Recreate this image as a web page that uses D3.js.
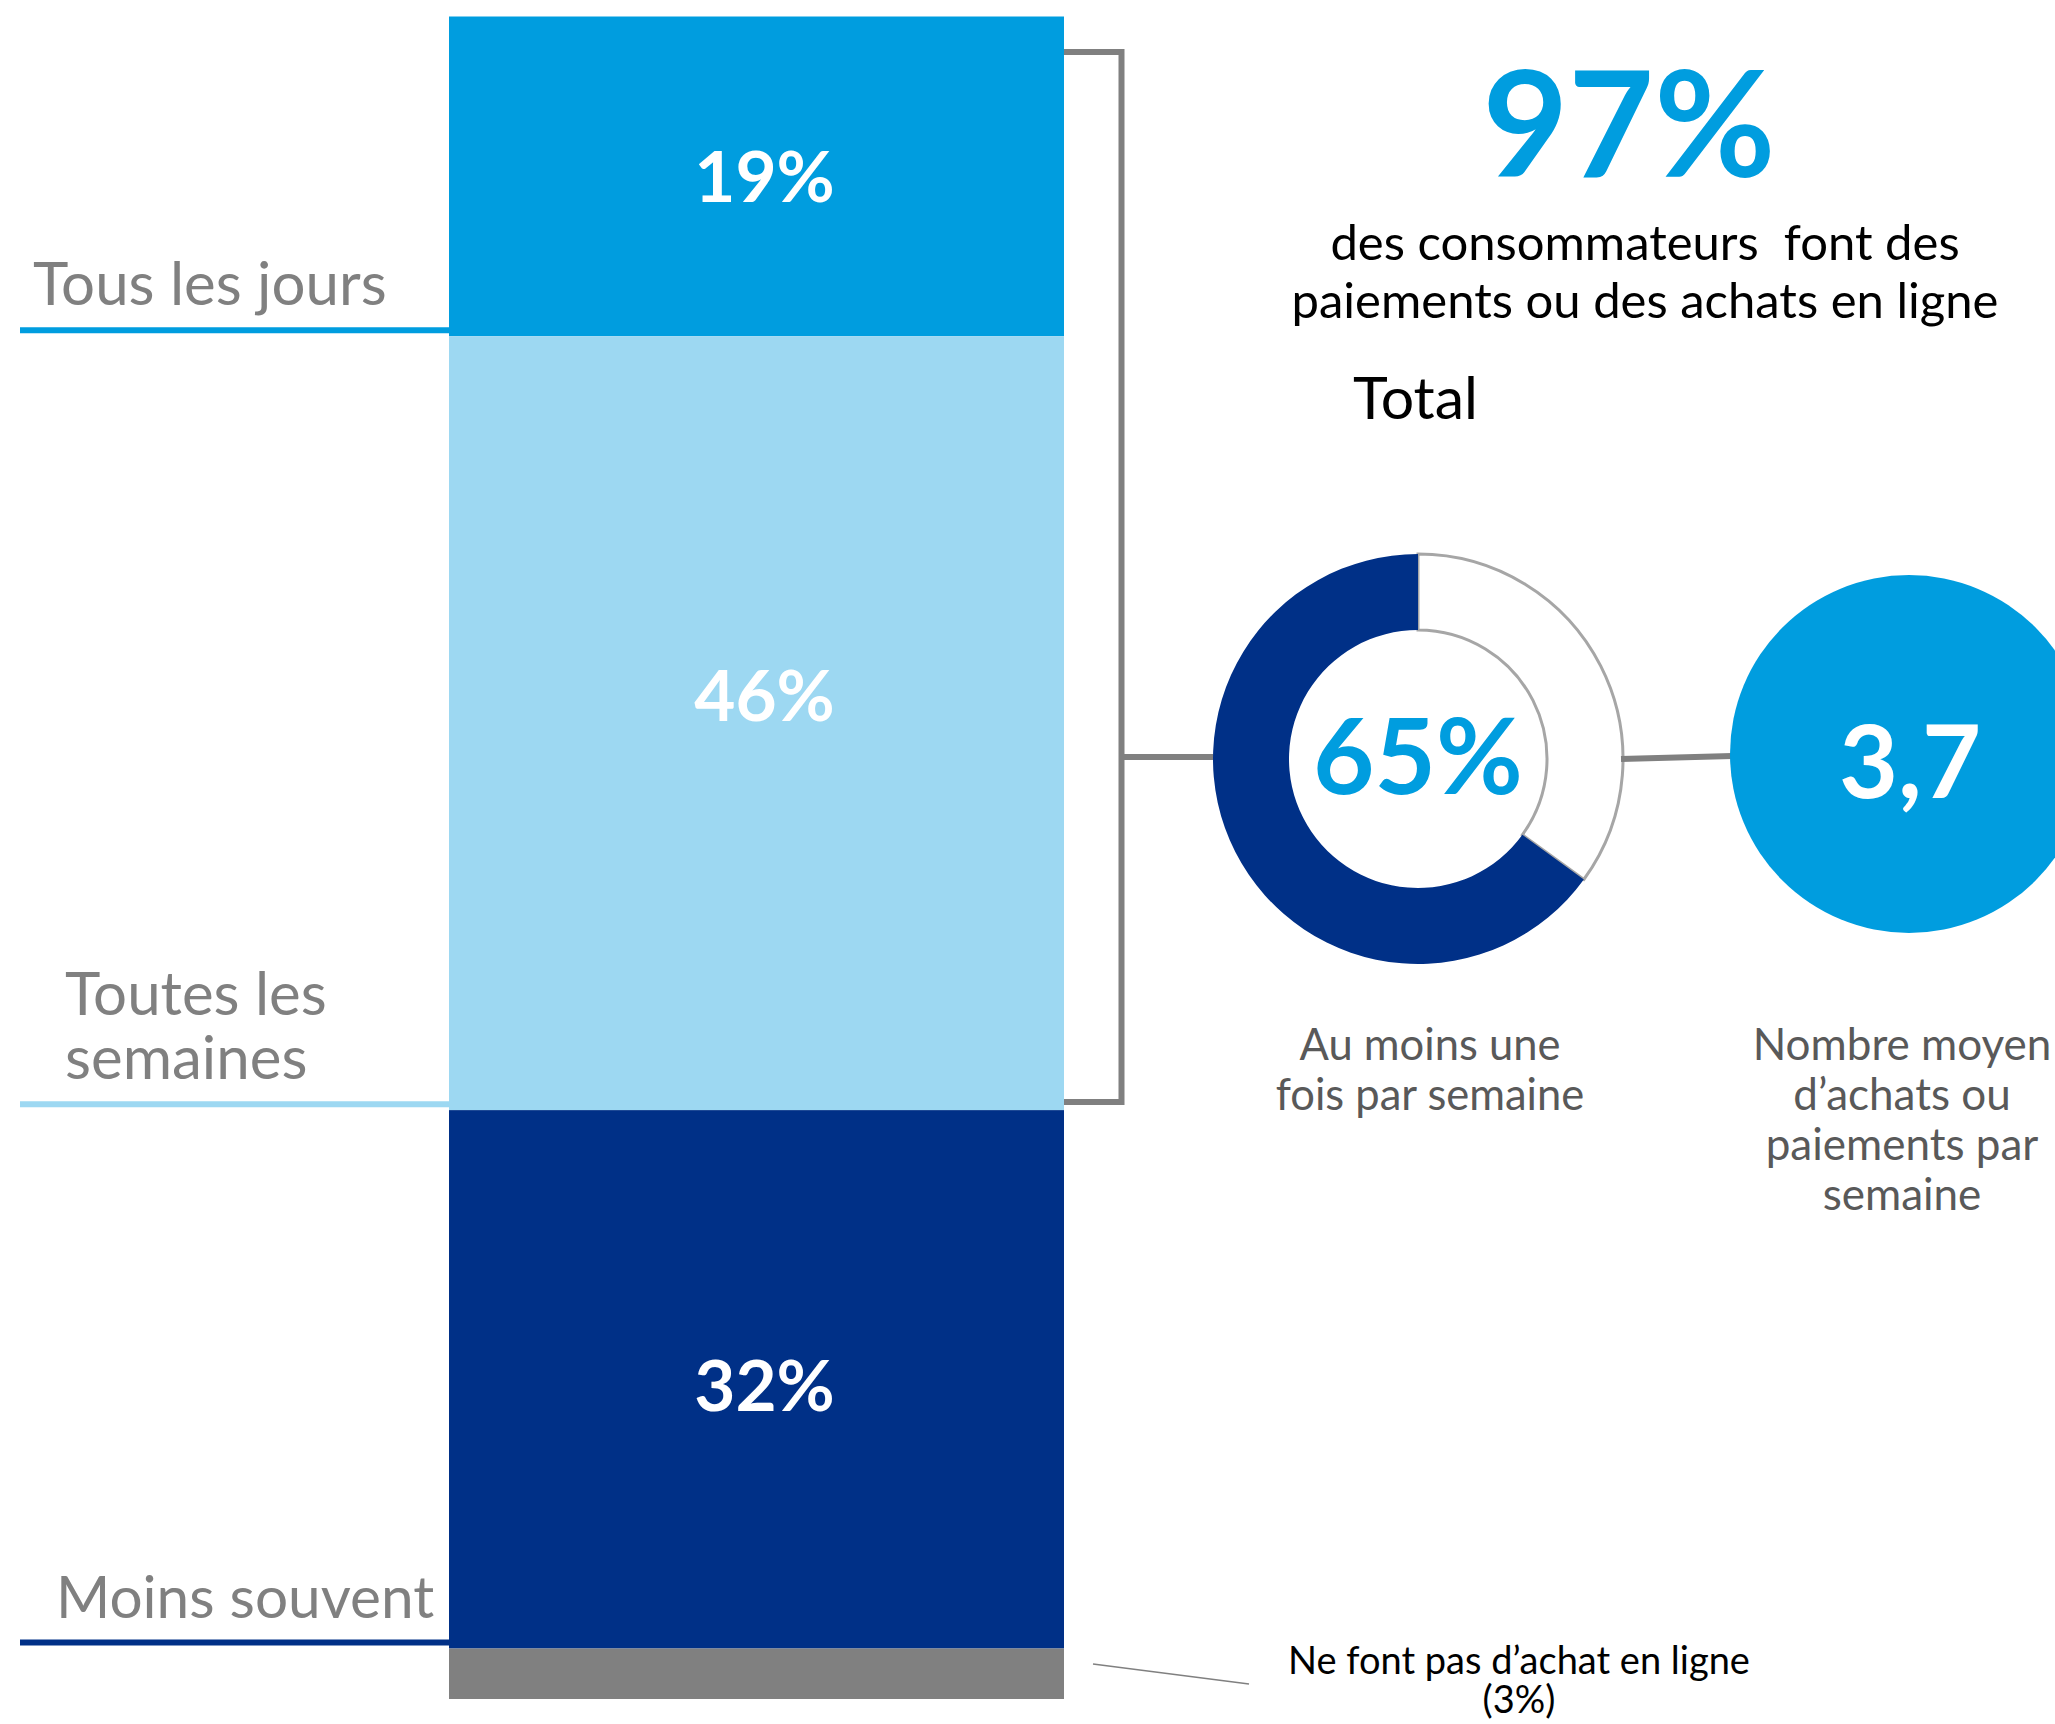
<!DOCTYPE html>
<html>
<head>
<meta charset="utf-8">
<script src="https://cdn.jsdelivr.net/npm/d3@7"></script>
<style>
  html, body { margin: 0; padding: 0; background: #ffffff; }
  svg { display: block; font-family: Lato, "Open Sans", sans-serif; }
</style>
</head>
<body>
<svg id="chart" width="2055" height="1724"></svg>
<script>
// ---------- DATA ----------
const categories = ["Tous les jours", "Toutes les semaines", "Moins souvent", "Ne font pas d'achat en ligne"];
const categoryLines = [["Tous les jours"], ["Toutes les", "semaines"], ["Moins souvent"], []];
const shares = [19, 46, 32, 3];
const segmentColors = ["#009ddf", "#9dd8f2", "#003087", "#808080"];
const headlineShare = 97;
const headlineText = ["des consommateurs  font des", "paiements ou des achats en ligne"];
const groupTitle = "Total";
const weeklyShare = 65;
const weeklyLabel = ["Au moins une", "fois par semaine"];
const avgPurchases = 3.7;
const avgLabel = ["Nombre moyen", "d\u2019achats ou", "paiements par", "semaine"];
const noneLabel = ["Ne font pas d\u2019achat en ligne", "(3%)"];

// ---------- SETUP ----------
const svg = d3.select("#chart");
const fr = d3.formatLocale({decimal: ",", thousands: "\u00a0", grouping: [3], currency: ["", " €"]});
const pct = v => v + "%";

const x = d3.scaleBand().domain(["Total"]).range([449, 1064]).padding(0);
const y = d3.scaleLinear().domain([0, 100]).range([16.5, 1699]);

const stackData = [];
let acc = 0;
shares.forEach((v, i) => { stackData.push({cat: categories[i], v, y0: acc, y1: acc + v, i}); acc += v; });

// ---------- BAR ----------
svg.append("g").selectAll("rect").data(stackData).join("rect")
  .attr("x", x("Total"))
  .attr("width", x.bandwidth())
  .attr("y", d => y(d.y0))
  .attr("height", d => y(d.y1) - y(d.y0))
  .attr("fill", d => segmentColors[d.i]);

const labelShift = [0, -28, 6, 0];
svg.append("g").selectAll("text").data(stackData.slice(0, 3)).join("text")
  .attr("x", x("Total") + x.bandwidth() / 2 + 8)
  .attr("y", d => (y(d.y0) + y(d.y1)) / 2 + labelShift[d.i])
  .attr("dy", "0.36em")
  .attr("text-anchor", "middle")
  .attr("fill", "#ffffff")
  .attr("font-weight", 700)
  .attr("font-size", 71)
  .text(d => pct(d.v));

// category labels + underline
const catG = svg.append("g");
const labelX = [33, 65, 56];
const labelSize = [60, 60, 58.5];
stackData.slice(0, 3).forEach(d => {
  const yb = y(d.y1);
  catG.append("line")
    .attr("x1", 20).attr("x2", x("Total"))
    .attr("y1", yb - 6).attr("y2", yb - 6)
    .attr("stroke", segmentColors[d.i]).attr("stroke-width", 6);
  const lines = categoryLines[d.i];
  lines.forEach((ln, k) => {
    catG.append("text")
      .attr("x", labelX[d.i])
      .attr("y", yb - 31 - (lines.length - 1 - k) * 64)
      .attr("fill", "#808080")
      .attr("font-size", labelSize[d.i])
      .text(ln);
  });
});

// ---------- BRACKET ----------
const bx = 1121.5;
svg.append("path")
  .attr("d", `M${x("Total") + x.bandwidth()},52 H${bx} V1102 H${x("Total") + x.bandwidth()}`)
  .attr("fill", "none").attr("stroke", "#808080").attr("stroke-width", 6);

// ---------- DONUT ----------
const cx = 1418, cy = 759, rOut = 205, rIn = 129;
svg.append("line").attr("x1", bx).attr("x2", cx - rOut).attr("y1", 757).attr("y2", 757)
  .attr("stroke", "#808080").attr("stroke-width", 6);

const startA = (1 - weeklyShare / 100) * 2 * Math.PI;
const pie = d3.pie().sort(null).startAngle(startA).endAngle(startA + 2 * Math.PI);
const arcs = pie([weeklyShare, 100 - weeklyShare]);
const arc = d3.arc().innerRadius(rIn).outerRadius(rOut);
const dg = svg.append("g").attr("transform", `translate(${cx},${cy})`);
dg.append("path").attr("d", arc(arcs[1])).attr("fill", "#ffffff")
  .attr("stroke", "#a6a6a6").attr("stroke-width", 3);
dg.append("path").attr("d", arc(arcs[0])).attr("fill", "#003087");
dg.append("text").attr("x", 0).attr("y", 35).attr("text-anchor", "middle")
  .attr("fill", "#009ddf").attr("font-weight", 700).attr("font-size", 106)
  .text(pct(weeklyShare));

weeklyLabel.forEach((ln, k) => {
  svg.append("text").attr("x", 1430).attr("y", 1060 + k * 50).attr("text-anchor", "middle")
    .attr("fill", "#595959").attr("font-size", 43.5).text(ln);
});

// ---------- AVG CIRCLE ----------
const ccx = 1909, ccy = 754, cr = 179;
svg.append("line").attr("x1", cx + rOut - 2).attr("y1", 759).attr("x2", ccx - cr + 2).attr("y2", 756)
  .attr("stroke", "#808080").attr("stroke-width", 6);
svg.append("circle").attr("cx", ccx).attr("cy", ccy).attr("r", cr).attr("fill", "#009ddf");
svg.append("text").attr("x", 1910).attr("y", 798).attr("text-anchor", "middle")
  .attr("fill", "#ffffff").attr("font-weight", 700).attr("font-size", 102)
  .text(fr.format(",.1f")(avgPurchases));
avgLabel.forEach((ln, k) => {
  svg.append("text").attr("x", 1902).attr("y", 1060 + k * 50).attr("text-anchor", "middle")
    .attr("fill", "#595959").attr("font-size", 44).text(ln);
});

// ---------- HEADLINE ----------
svg.append("text").attr("x", 1629).attr("y", 177).attr("text-anchor", "middle")
  .attr("fill", "#009ddf").attr("font-weight", 700).attr("font-size", 148)
  .text(pct(headlineShare));
headlineText.forEach((ln, k) => {
  svg.append("text").attr("x", 1645).attr("y", 260 + k * 58).attr("text-anchor", "middle")
    .attr("fill", "#000000").attr("font-size", 49).style("white-space", "pre").text(ln);
});
svg.append("text").attr("x", 1353).attr("y", 419).attr("fill", "#000000")
  .attr("font-size", 59).text(groupTitle);

// ---------- NONE LABEL ----------
svg.append("line").attr("x1", 1093).attr("y1", 1664).attr("x2", 1249).attr("y2", 1684)
  .attr("stroke", "#808080").attr("stroke-width", 1.5);
noneLabel.forEach((ln, k) => {
  svg.append("text").attr("x", 1519).attr("y", 1674 + k * 39).attr("text-anchor", "middle")
    .attr("fill", "#000000").attr("font-size", 38).text(ln);
});
</script>
</body>
</html>
